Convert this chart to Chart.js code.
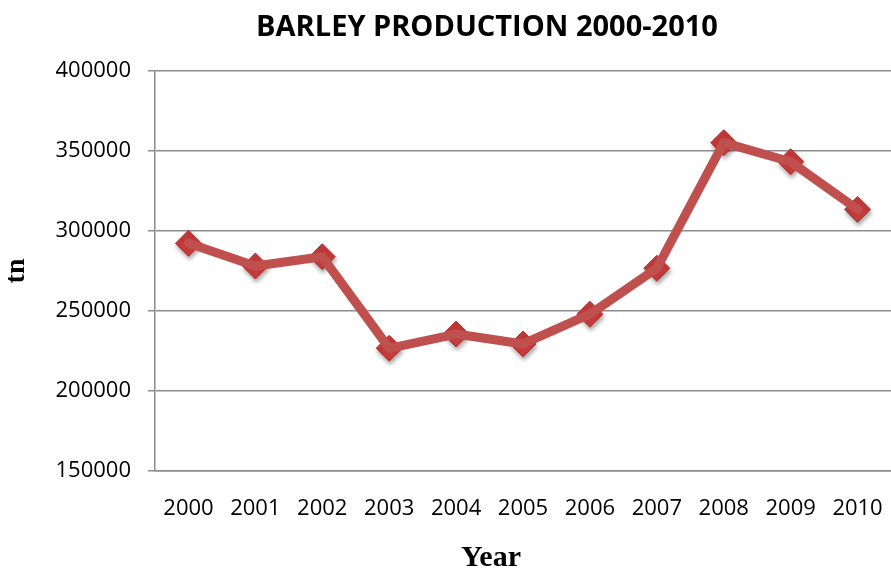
<!DOCTYPE html>
<html>
<head>
<meta charset="utf-8">
<script src="https://cdn.jsdelivr.net/npm/chart.js@4/dist/chart.umd.min.js"></script>
<style>
  html, body { margin: 0; padding: 0; background: #ffffff; }
  #wrap { width: 891px; height: 586px; }
</style>
</head>
<body>
<div id="wrap"><canvas id="chart" width="891" height="586"></canvas></div>
<script>
// Barley production per year, tonnes
const years = ['2000', '2001', '2002', '2003', '2004', '2005', '2006', '2007', '2008', '2009', '2010'];
const production = [292300, 278100, 283900, 226700, 235600, 229400, 248000, 276700, 355200, 343300, 313500];
const yTicks = [150000, 200000, 250000, 300000, 350000, 400000];

const chartTitle = 'BARLEY PRODUCTION 2000-2010';
const xTitle = 'Year';
const yTitle = 'tn';

const lineColor = '#C0504D';
const markerColor = '#C63B3B';
const gridColor = '#8c8c8c';

// Soft drop shadow behind the diamond markers only
const markerShadow = {
  id: 'markerShadow',
  beforeDatasetDraw(chart, args) {
    if (args.index !== 1) return;
    const ctx = chart.ctx;
    ctx.save();
    ctx.shadowColor = 'rgba(0,0,0,0.35)';
    ctx.shadowBlur = 4;
    ctx.shadowOffsetX = 1;
    ctx.shadowOffsetY = 3;
  },
  afterDatasetDraw(chart, args) {
    if (args.index !== 1) return;
    chart.ctx.restore();
  }
};

// Chart title and category-axis title, centred over the whole figure
const headings = {
  id: 'headings',
  afterDraw(chart) {
    const ctx = chart.ctx;
    ctx.save();
    ctx.fillStyle = '#000000';
    ctx.textAlign = 'center';
    ctx.textBaseline = 'middle';
    ctx.font = 'bold 29px "Open Sans"';
    ctx.fillText(chartTitle, 487, 28);
    ctx.font = 'bold 30px "Liberation Serif"';
    ctx.fillText(xTitle, 491, 558);
    ctx.restore();
  }
};

new Chart(document.getElementById('chart'), {
  type: 'line',
  data: {
    labels: years,
    datasets: [
      {
        data: production,
        borderColor: lineColor,
        borderWidth: 9,
        borderJoinStyle: 'round',
        borderCapStyle: 'round',
        pointRadius: 0,
        tension: 0,
        fill: false
      },
      {
        data: production,
        showLine: false,
        pointStyle: 'rectRot',
        pointRadius: 13,
        pointBackgroundColor: markerColor,
        pointBorderColor: '#B23232',
        pointBorderWidth: 1
      }
    ]
  },
  options: {
    responsive: false,
    animation: false,
    devicePixelRatio: 1,
    layout: { autoPadding: false, padding: { left: 0, right: 0, top: 71, bottom: 0 } },
    plugins: {
      legend: { display: false },
      tooltip: { enabled: false },
      title: { display: false }
    },
    scales: {
      x: {
        offset: true,
        grid: { display: false, drawTicks: false },
        border: { display: true, color: gridColor, width: 1.5 },
        ticks: {
          color: '#000000',
          font: { family: 'Open Sans', size: 22, lineHeight: 2.9 },
          padding: 6,
          maxRotation: 0,
          autoSkip: false
        },
        afterFit(scale) { scale.height = 115; }
      },
      y: {
        min: yTicks[0],
        max: yTicks[yTicks.length - 1],
        afterBuildTicks(scale) { scale.ticks = yTicks.map(v => ({ value: v })); },
        grid: { color: gridColor, lineWidth: 1.5, tickLength: 7, drawTicks: true },
        border: { display: true, color: gridColor, width: 1.5 },
        ticks: {
          color: '#000000',
          font: { family: 'Open Sans', size: 22 },
          padding: 17,
          callback: v => String(v)
        },
        title: {
          display: true,
          text: yTitle,
          color: '#000000',
          font: { family: 'Liberation Serif', weight: 'bold', size: 28, lineHeight: 1.2 },
          padding: { top: 0, bottom: 0 }
        },
        afterFit(scale) { scale.width = 155; }
      }
    }
  },
  plugins: [markerShadow, headings]
});
</script>
</body>
</html>
